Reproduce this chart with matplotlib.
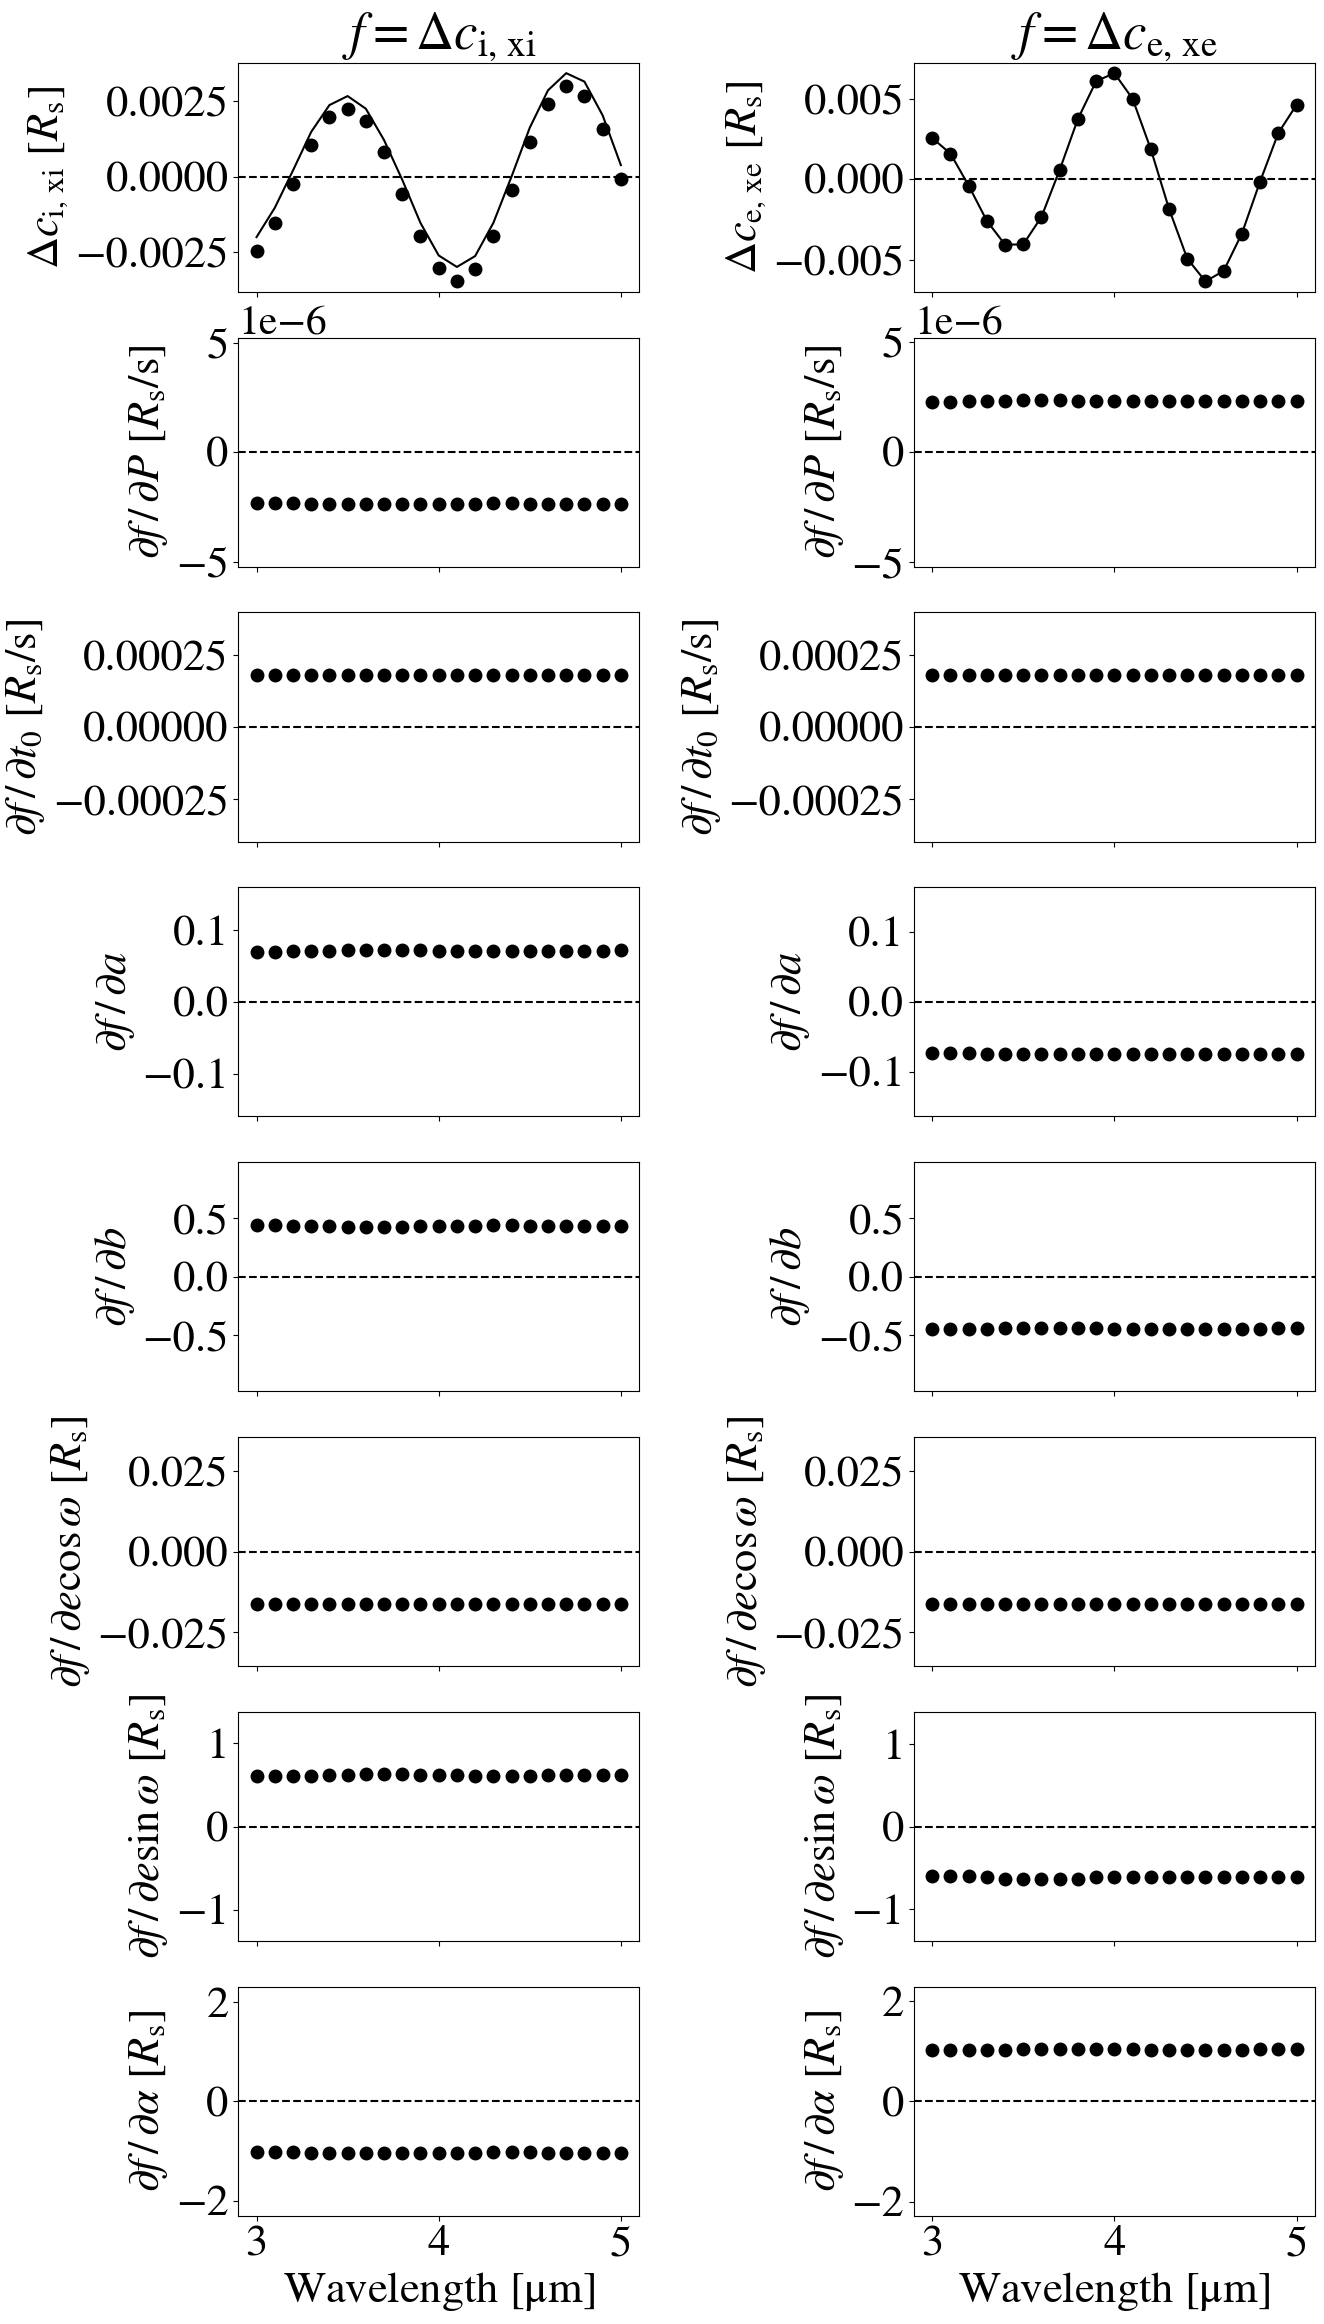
import matplotlib
matplotlib.use("Agg")
import matplotlib.pyplot as plt
import numpy as np

plt.rcParams['font.family'] = 'STIXGeneral'
plt.rcParams['mathtext.fontset'] = 'stix'
plt.rcParams['xtick.labelsize'] = 32
plt.rcParams['ytick.labelsize'] = 32
plt.rcParams['axes.labelsize'] = 32

# wavelength grid [um]
wl = [3.0, 3.1, 3.2, 3.3, 3.4, 3.5, 3.6, 3.7, 3.8, 3.9, 4.0,
      4.1, 4.2, 4.3, 4.4, 4.5, 4.6, 4.7, 4.8, 4.9, 5.0]

# f = delta c_i,xi : points and model line
dci_pts = [-0.00246, -0.00154, -0.00024, 0.00103, 0.00196, 0.00225, 0.00184,
           0.00080, -0.00058, -0.00199, -0.00303, -0.00348, -0.00308, -0.00199,
           -0.00045, 0.00116, 0.00241, 0.00299, 0.00268, 0.00157, -0.00009]
dci_line = [-0.00201, -0.00104, 0.00020, 0.00148, 0.00237, 0.00267, 0.00225,
            0.00121, -0.00011, -0.00154, -0.00262, -0.00300, -0.00264, -0.00154,
            0.00000, 0.00162, 0.00286, 0.00343, 0.00315, 0.00203, 0.00038]
# f = delta c_e,xe
dce = [0.00255, 0.00159, -0.00040, -0.00259, -0.00407, -0.00405, -0.00234,
       0.00058, 0.00374, 0.00608, 0.00658, 0.00499, 0.00186, -0.00184,
       -0.00493, -0.00635, -0.00570, -0.00338, -0.00015, 0.00286, 0.00461]

# derivatives, left column (f = delta c_i,xi)
dP_i = np.array([-2.33, -2.33, -2.33, -2.38, -2.38, -2.38, -2.38, -2.38, -2.38, -2.38, -2.38,
                 -2.38, -2.38, -2.33, -2.33, -2.38, -2.38, -2.38, -2.38, -2.38, -2.38]) * 1e-6
dt0_i = [1.80e-4] * 21
da_i = [0.0697, 0.0697, 0.0712, 0.0712, 0.0712, 0.0727, 0.0727, 0.0727, 0.0727, 0.0727, 0.0712,
        0.0712, 0.0712, 0.0712, 0.0712, 0.0712, 0.0712, 0.0712, 0.0712, 0.0712, 0.0727]
db_i = [0.445, 0.445, 0.437, 0.437, 0.437, 0.429, 0.429, 0.429, 0.429, 0.437, 0.437,
        0.437, 0.437, 0.445, 0.445, 0.437, 0.437, 0.437, 0.437, 0.437, 0.437]
decos_i = [-0.0161] * 21
desin_i = [0.602, 0.602, 0.602, 0.602, 0.614, 0.614, 0.626, 0.626, 0.626, 0.614, 0.614,
           0.614, 0.602, 0.602, 0.602, 0.602, 0.614, 0.614, 0.614, 0.614, 0.614]
dalpha_i = [-1.03, -1.03, -1.03, -1.05, -1.05, -1.05, -1.05, -1.05, -1.05, -1.05, -1.05,
            -1.05, -1.05, -1.03, -1.03, -1.03, -1.05, -1.05, -1.05, -1.05, -1.05]

# derivatives, right column (f = delta c_e,xe)
dP_e = np.array([2.26, 2.26, 2.31, 2.31, 2.31, 2.36, 2.36, 2.36, 2.31, 2.31, 2.31,
                 2.31, 2.31, 2.31, 2.31, 2.31, 2.31, 2.31, 2.31, 2.31, 2.31]) * 1e-6
dt0_e = [1.80e-4] * 21
da_e = [-0.0731, -0.0731, -0.0731, -0.0746, -0.0746, -0.0746, -0.0746, -0.0746, -0.0746, -0.0746, -0.0746,
        -0.0746, -0.0746, -0.0746, -0.0746, -0.0746, -0.0746, -0.0746, -0.0746, -0.0746, -0.0746]
db_e = [-0.445, -0.445, -0.445, -0.445, -0.437, -0.437, -0.437, -0.437, -0.437, -0.437, -0.445,
        -0.445, -0.445, -0.445, -0.445, -0.445, -0.445, -0.445, -0.445, -0.437, -0.437]
decos_e = [-0.0161] * 21
desin_e = [-0.60, -0.60, -0.60, -0.61, -0.63, -0.63, -0.63, -0.63, -0.63, -0.61, -0.61,
           -0.61, -0.61, -0.61, -0.61, -0.61, -0.61, -0.61, -0.61, -0.61, -0.61]
dalpha_e = [1.02, 1.02, 1.02, 1.02, 1.02, 1.04, 1.04, 1.04, 1.04, 1.04, 1.04,
            1.04, 1.02, 1.02, 1.02, 1.02, 1.02, 1.02, 1.04, 1.04, 1.04]

labels = [r'$\partial f\,/\,\partial P$ [$R_\mathrm{s}$/s]',
          r'$\partial f\,/\,\partial t_0$ [$R_\mathrm{s}$/s]',
          r'$\partial f\,/\,\partial a$',
          r'$\partial f\,/\,\partial b$',
          r'$\partial f\,/\,\partial e\cos\omega$ [$R_\mathrm{s}$]',
          r'$\partial f\,/\,\partial e\sin\omega$ [$R_\mathrm{s}$]',
          r'$\partial f\,/\,\partial \alpha$ [$R_\mathrm{s}$]']
left = [dP_i, dt0_i, da_i, db_i, decos_i, desin_i, dalpha_i]
right = [dP_e, dt0_e, da_e, db_e, decos_e, desin_e, dalpha_e]

fig, axs = plt.subplots(8, 2, figsize=(13.24, 23.24), dpi=100, sharex=True)
fig.subplots_adjust(left=0.18, right=0.993, top=0.973, bottom=0.0465,
                    wspace=0.686, hspace=0.2)

ax = axs[0, 0]
ax.plot(wl, dci_pts, 'ko', ms=9)
ax.plot(wl, dci_line, 'k-', lw=1.5)
ax.axhline(0, color='k', ls='--', lw=1.5)
ax.set_ylabel(r'$\Delta c_\mathrm{i,\,xi}$ [$R_\mathrm{s}$]')
ax.set_title(r'$f = \Delta c_\mathrm{i,\,xi}$', fontsize=38)

ax = axs[0, 1]
ax.plot(wl, dce, 'ko-', ms=9, lw=1.5)
ax.axhline(0, color='k', ls='--', lw=1.5)
ax.set_ylabel(r'$\Delta c_\mathrm{e,\,xe}$ [$R_\mathrm{s}$]')
ax.set_title(r'$f = \Delta c_\mathrm{e,\,xe}$', fontsize=38)

for col, data in enumerate([left, right]):
    for k in range(7):
        ax = axs[k + 1, col]
        y = np.asarray(data[k])
        ax.plot(wl, y, 'ko', ms=9)
        ax.axhline(0, color='k', ls='--', lw=1.5)
        lim = 2.2 * np.max(np.abs(y))
        ax.set_ylim(-lim, lim)
        ax.set_ylabel(labels[k])
        ax.yaxis.get_offset_text().set_fontsize(30)

for ax in axs[-1]:
    ax.set_xlabel(r'Wavelength [$\mathrm{\mu}$m]')
    ax.set_xticks([3, 4, 5])

fig.savefig('out.png', dpi=100)
